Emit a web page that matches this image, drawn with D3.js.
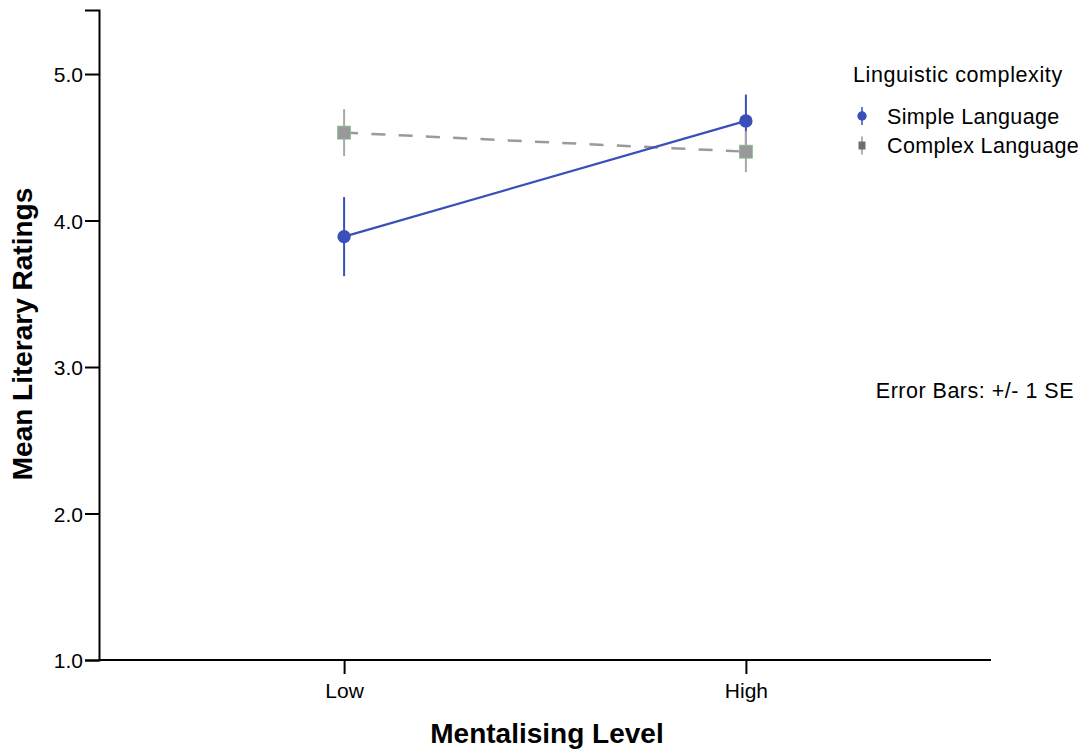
<!DOCTYPE html>
<html><head><meta charset="utf-8">
<script src="https://cdn.jsdelivr.net/npm/d3@7"></script>
<style>body{margin:0;background:#fff}svg{display:block;font-family:"Liberation Sans",Arial,sans-serif}</style>
</head><body><svg id="c" width="1081" height="750"></svg>
<script>
const categories = ["Low", "High"];
const seriesNames = ["Simple Language", "Complex Language"];
const simpleMeans = [3.89, 4.68];
const simpleSE = [0.27, 0.18];
const complexMeans = [4.60, 4.47];
const complexSE = [0.16, 0.14];
const yTicks = [1.0, 2.0, 3.0, 4.0, 5.0];

const svg = d3.select("#c");
const x = d3.scalePoint().domain(categories).range([99, 991]).padding(0.61);
const y = d3.scaleLinear().domain([1, 5.437]).range([660, 10]);

const series = [
  {name: seriesNames[0], means: simpleMeans, se: simpleSE, color: "#3a4fba", bar: "#3a4fba", shape: "circle", dash: null, width: 2.2},
  {name: seriesNames[1], means: complexMeans, se: complexSE, color: "#9a9a9a", bar: "#a8a8a8", shape: "square", dash: "14,13.3", width: 2.5}
];

// axes
const yAxis = svg.append("g").attr("transform", "translate(99,0)")
  .call(d3.axisLeft(y).tickValues(yTicks).tickFormat(d3.format(".1f")).tickSizeOuter(0).tickSize(14));
const xAxis = svg.append("g").attr("transform", "translate(0,660)")
  .call(d3.axisBottom(x).tickSizeOuter(0).tickSize(14));
[yAxis, xAxis].forEach(g => {
  g.attr("font-size", 21).attr("font-family", "Liberation Sans, Arial, sans-serif");
  g.select(".domain").attr("stroke", "#000").attr("stroke-width", 2);
  g.selectAll(".tick line").attr("stroke", "#000").attr("stroke-width", 2);
  g.selectAll(".tick text").attr("fill", "#000");
});
xAxis.select(".domain").attr("d", "M99,0H991");
yAxis.selectAll(".tick text").attr("x", -16).attr("dy", "0.36em");
xAxis.selectAll(".tick text").attr("y", 23);

svg.append("text").attr("x", 547).attr("y", 743).attr("text-anchor", "middle")
  .attr("font-size", 28).attr("font-weight", "bold").text("Mentalising Level");
svg.append("text").attr("transform", "translate(32,334) rotate(-90)").attr("text-anchor", "middle")
  .attr("font-size", 28).attr("font-weight", "bold").text("Mean Literary Ratings");

// lines
const line = d3.line().x((d, i) => x(categories[i])).y(d => y(d));
series.slice().reverse().forEach(s => {
  svg.append("path").attr("d", line(s.means)).attr("fill", "none")
    .attr("stroke", s.color).attr("stroke-width", s.width).attr("stroke-dasharray", s.dash);
});
// error bars
series.forEach(s => {
  s.means.forEach((m, i) => {
    svg.append("line").attr("x1", x(categories[i])).attr("x2", x(categories[i]))
      .attr("y1", y(m - s.se[i])).attr("y2", y(m + s.se[i]))
      .attr("stroke", s.bar).attr("stroke-width", 2);
  });
});
// markers
series.forEach(s => {
  s.means.forEach((m, i) => {
    const cx = x(categories[i]), cy = y(m);
    if (s.shape === "circle") {
      svg.append("circle").attr("cx", cx).attr("cy", cy).attr("r", 6.7).attr("fill", s.color);
    } else {
      svg.append("rect").attr("x", cx - 6.5).attr("y", cy - 6.5).attr("width", 13).attr("height", 13)
        .attr("fill", "#999999").attr("stroke", "#8fbf8f").attr("stroke-width", 0.8);
    }
  });
});

// legend
svg.append("text").attr("x", 853).attr("y", 82).attr("font-size", 21.5).attr("letter-spacing", 0.6).text("Linguistic complexity");
series.forEach((s, i) => {
  const ly = 116 + i * 29.5;
  svg.append("line").attr("x1", 862).attr("x2", 862).attr("y1", ly - 9).attr("y2", ly + 9)
    .attr("stroke", s.shape === "circle" ? s.color : "#999").attr("stroke-width", 1.5);
  if (s.shape === "circle") svg.append("circle").attr("cx", 862).attr("cy", ly).attr("r", 4.7).attr("fill", s.color);
  else svg.append("rect").attr("x", 858.5).attr("y", ly - 4).attr("width", 7).attr("height", 8).attr("fill", "#6e6e6e");
  svg.append("text").attr("x", 887).attr("y", ly + 7.5).attr("font-size", 21.5).attr("letter-spacing", 0.35).text(s.name);
});
svg.append("text").attr("x", 1074).attr("y", 398).attr("text-anchor", "end").attr("font-size", 21.5).attr("letter-spacing", 0.5).text("Error Bars: +/- 1 SE");
</script></body></html>
